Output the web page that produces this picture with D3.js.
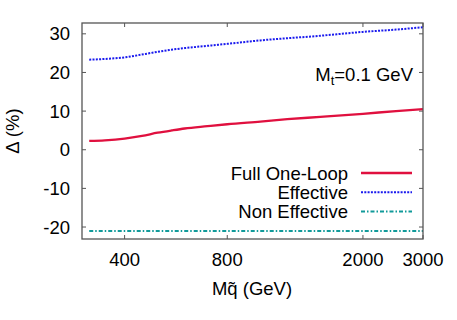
<!DOCTYPE html>
<html lang="en">
<head>
	<meta charset="UTF-8">
	<title>Delta vs squark mass</title>
	<script src="https://d3js.org/d3.v7.min.js"></script>
	<style>
		body { margin: 0; background: #fff; }
		svg { font-family: "Liberation Sans", Arial, sans-serif; }
	</style>
</head>
<body>
	<svg width="457" height="320"></svg>
	<script>
		// data (GeV, %)
		const fullMass = [315, 350, 400, 450, 500, 550, 600, 700, 800, 1000, 1200, 1500, 2000, 2500, 3000];
		const fullDelta = [2.3, 2.45, 2.9, 3.6, 4.4, 5.0, 5.5, 6.1, 6.6, 7.3, 7.9, 8.5, 9.3, 10.0, 10.5];
		const effMass = [315, 350, 400, 460, 540, 600, 720, 800, 1000, 1500, 2000, 2500, 3000];
		const effDelta = [23.3, 23.5, 23.9, 24.8, 25.8, 26.3, 27.0, 27.4, 28.3, 29.5, 30.5, 31.1, 31.7];
		const nonEffMass = [315, 3000];
		const nonEffDelta = [-21, -21];
		const xTicks = [400, 800, 2000, 3000];
		const yTicks = [-20, -10, 0, 10, 20, 30];

		const series = [
			{ name: "Full One-Loop", mass: fullMass, delta: fullDelta, color: "#e0103f", width: 2.3, dash: null },
			{ name: "Effective", mass: effMass, delta: effDelta, color: "#1a1aee", width: 2, dash: "2,1.3" },
			{ name: "Non Effective", mass: nonEffMass, delta: nonEffDelta, color: "#119a9a", width: 2, dash: "4,2,1.5,2" }
		];

		const svg = d3.select("svg");
		const margin = { top: 23, right: 34, bottom: 81, left: 82 };
		const width = 457 - margin.left - margin.right,
			height = 320 - margin.top - margin.bottom;

		const x = d3.scaleLog().domain([300, 3000]).range([0, width]);
		const y = d3.scaleLinear().domain([-23.1, 32.8]).range([height, 0]);

		const fs = "18.5px";

		const g = svg.append("g")
			.attr("transform", "translate(" + margin.left + "," + margin.top + ")");

		// ticks on all four sides, pointing in
		const tickLen = 4;
		g.selectAll(".xt")
			.data(xTicks)
			.enter().append("path")
			.attr("d", d => "M" + x(d) + "," + height + "v" + (-tickLen) + "M" + x(d) + ",0v" + tickLen)
			.attr("stroke", "#555").attr("stroke-width", 1);
		g.selectAll(".yt")
			.data(yTicks)
			.enter().append("path")
			.attr("d", d => "M0," + y(d) + "h" + tickLen + "M" + width + "," + y(d) + "h" + (-tickLen))
			.attr("stroke", "#555").attr("stroke-width", 1);

		g.selectAll(".xl")
			.data(xTicks)
			.enter().append("text")
			.attr("x", d => x(d))
			.attr("y", height + 27)
			.attr("text-anchor", "middle")
			.style("font-size", fs)
			.text(d => d);
		g.selectAll(".yl")
			.data(yTicks)
			.enter().append("text")
			.attr("x", -12)
			.attr("y", d => y(d) + 6.5)
			.attr("text-anchor", "end")
			.style("font-size", fs)
			.text(d => d);

		// curves
		const line = d3.line()
			.x(d => x(d[0]))
			.y(d => y(d[1]))
			.curve(d3.curveMonotoneX);

		series.forEach(s => {
			g.append("path")
				.datum(s.mass.map((m, i) => [m, s.delta[i]]))
				.attr("d", line)
				.attr("fill", "none")
				.attr("stroke", s.color)
				.attr("stroke-width", s.width)
				.attr("stroke-dasharray", s.dash);
		});

		// frame
		g.append("rect")
			.attr("width", width).attr("height", height)
			.attr("fill", "none").attr("stroke", "#555").attr("stroke-width", 1.3);

		// legend
		const legend = g.selectAll(".leg")
			.data(series)
			.enter().append("g")
			.attr("transform", (d, i) => "translate(0," + (150 + i * 19.3) + ")");
		legend.append("text")
			.attr("x", 266)
			.attr("y", 6.5)
			.attr("text-anchor", "end")
			.style("font-size", fs)
			.text(d => d.name);
		legend.append("line")
			.attr("x1", 279).attr("x2", 330)
			.attr("stroke", d => d.color)
			.attr("stroke-width", d => d.width)
			.attr("stroke-dasharray", d => d.dash);

		// annotation
		const note = g.append("text")
			.attr("x", 331)
			.attr("y", 58)
			.attr("text-anchor", "end")
			.style("font-size", fs);
		note.append("tspan").text("M");
		note.append("tspan").attr("dy", 4).style("font-size", "13px").text("t");
		note.append("tspan").attr("dy", -4).text("=0.1 GeV");

		// axis titles
		svg.append("text")
			.attr("x", 252)
			.attr("y", 295)
			.attr("text-anchor", "middle")
			.style("font-size", fs)
			.text("Mq\u0303 (GeV)");
		svg.append("text")
			.attr("transform", "translate(19,131) rotate(-90)")
			.attr("text-anchor", "middle")
			.style("font-size", fs)
			.text("\u0394 (%)");
	</script>
</body>
</html>
